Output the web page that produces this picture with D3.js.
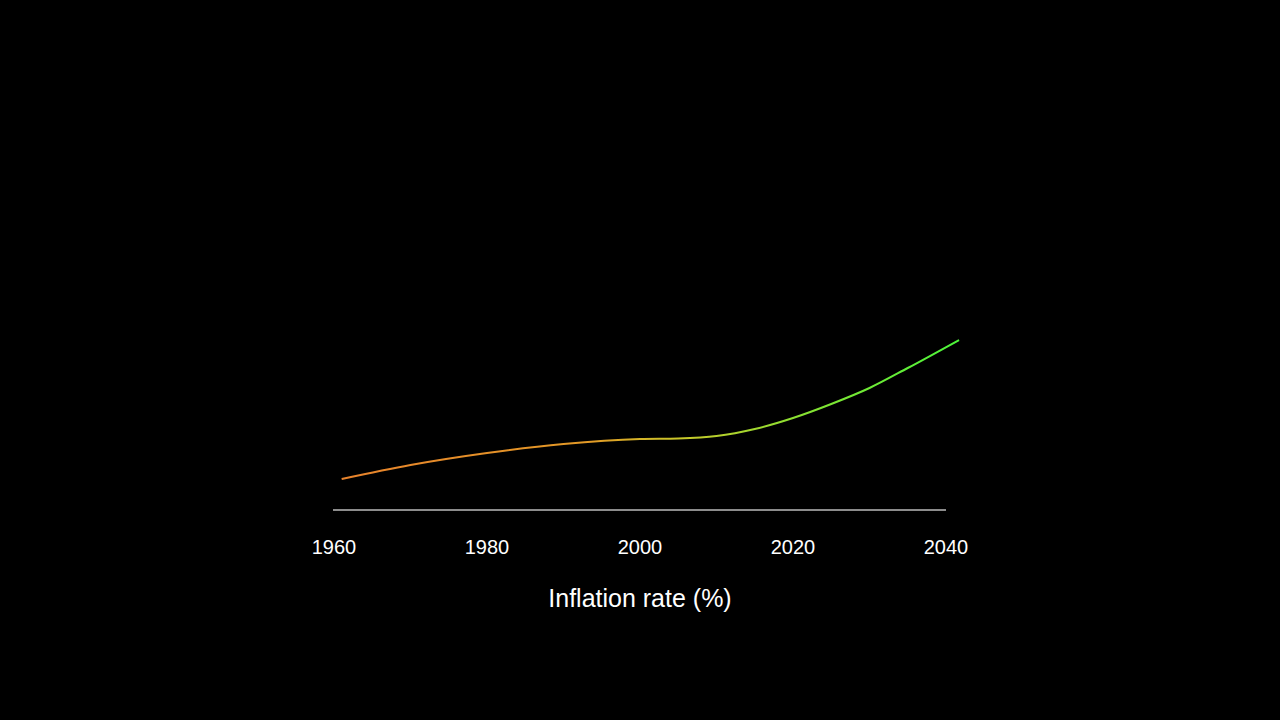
<html>
<head>
<meta charset="utf-8">
<title>Inflation rate</title>
<style>
  body { margin: 0; background: #000; }
  svg { display: block; }
</style>
<script src="https://d3js.org/d3.v7.min.js"></script>
</head>
<body>
<svg width="1280" height="720"></svg>
<script>
// approximate readings (no y axis shown)
var years = [1961, 1970, 1980, 1990, 2000, 2005, 2010, 2015, 2020, 2025, 2030, 2035, 2041.7];
var rates = [1.55, 2.25, 2.85, 3.3, 3.55, 3.58, 3.7, 4.05, 4.6, 5.3, 6.1, 7.1, 8.5];
var tickYears = [1960, 1980, 2000, 2020, 2040];

var svg = d3.select("svg");
var xScale = d3.scaleLinear().domain([1960, 2040]).range([334, 946]);
var yScale = d3.scaleLinear().domain([0, 10]).range([510, 310]);

var data = years.map((y, i) => ({year: y, rate: rates[i]}));

var grad = svg.append("defs").append("linearGradient")
    .attr("id", "lineGrad")
    .attr("gradientUnits", "userSpaceOnUse")
    .attr("x1", xScale(1961)).attr("x2", xScale(2041.7))
    .attr("y1", 0).attr("y2", 0);
grad.append("stop").attr("offset", "0%").attr("stop-color", "#e8832c");
grad.append("stop").attr("offset", "40%").attr("stop-color", "#e39a26");
grad.append("stop").attr("offset", "55%").attr("stop-color", "#c9c82a");
grad.append("stop").attr("offset", "75%").attr("stop-color", "#86e232");
grad.append("stop").attr("offset", "100%").attr("stop-color", "#4cf53a");

// baseline
svg.append("line")
    .attr("x1", xScale(1960) - 1).attr("x2", xScale(2040))
    .attr("y1", yScale(0)).attr("y2", yScale(0))
    .attr("stroke", "#bbbbbb").attr("stroke-width", 1.5);

svg.append("g")
    .selectAll("text")
    .data(tickYears)
    .enter()
    .append("text")
        .attr("x", d => xScale(d))
        .attr("y", 554)
        .attr("text-anchor", "middle")
        .attr("fill", "#fff")
        .style("font", "20px 'Liberation Sans', Arial, sans-serif")
        .text(d => d);

svg.append("path")
    .datum(data)
    .attr("fill", "none")
    .attr("stroke", "url(#lineGrad)")
    .attr("stroke-width", 2)
    .attr("d", d3.line().x(d => xScale(d.year)).y(d => yScale(d.rate)).curve(d3.curveMonotoneX));

svg.append("text")
    .attr("x", 640).attr("y", 607)
    .attr("text-anchor", "middle")
    .attr("fill", "#fff")
    .style("font", "25px 'Liberation Sans', Arial, sans-serif")
    .text("Inflation rate (%)");
</script>
</body>
</html>
